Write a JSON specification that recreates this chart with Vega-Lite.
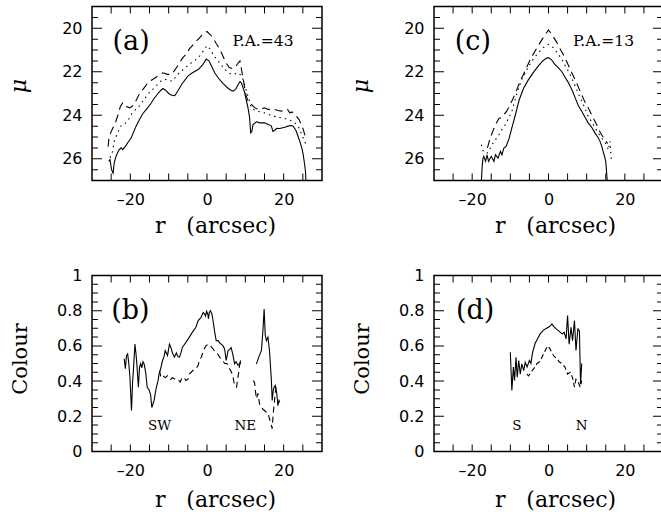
{
  "$schema": "https://vega.github.io/schema/vega-lite/v6.json",
  "background": "white",
  "padding": {"left": 6, "top": 5.5, "right": 0, "bottom": 0},
  "config": {
    "view": {"stroke": "black", "strokeWidth": 1.5},
    "axis": {"grid": false, "domain": false, "ticks": false, "tickSize": 0, "labelFont": "DejaVu Sans", "labelFontSize": 16, "labelColor": "black", "titleColor": "black", "titleFont": "DejaVu Serif", "titleFontSize": 21, "titleFontWeight": "normal", "labelOverlap": false, "labelFlush": false, "labelBound": false}
  },
  "datasets": {
    "xt": [{"v":-25},{"v":-20},{"v":-15},{"v":-10},{"v":-5},{"v":0},{"v":5},{"v":10},{"v":15},{"v":20},{"v":25}],
    "mumaj": [{"v":20},{"v":22},{"v":24},{"v":26}],
    "mumin": [{"v":19.5},{"v":20.5},{"v":21},{"v":21.5},{"v":22.5},{"v":23},{"v":23.5},{"v":24.5},{"v":25},{"v":25.5},{"v":26.5}],
    "cmaj": [{"v":0.2},{"v":0.4},{"v":0.6},{"v":0.8}],
    "cmin": [{"v":0.05},{"v":0.1},{"v":0.15},{"v":0.25},{"v":0.3},{"v":0.35},{"v":0.45},{"v":0.5},{"v":0.55},{"v":0.65},{"v":0.7},{"v":0.75},{"v":0.85},{"v":0.9},{"v":0.95}],
    "pa": [
      {"r":-25.65,"mu":26.12,"s":"solid"},{"r":-25.3,"mu":26.04,"s":"solid"},{"r":-24.9,"mu":26.5,"s":"solid"},{"r":-24.5,"mu":26.66,"s":"solid"},{"r":-24.2,"mu":26.2,"s":"solid"},{"r":-23.9,"mu":25.97,"s":"solid"},{"r":-23.4,"mu":25.75,"s":"solid"},{"r":-22.9,"mu":25.58,"s":"solid"},{"r":-22.4,"mu":25.5,"s":"solid"},{"r":-22.0,"mu":25.58,"s":"solid"},{"r":-21.3,"mu":25.43,"s":"solid"},{"r":-20.5,"mu":25.22,"s":"solid"},{"r":-19.8,"mu":25.05,"s":"solid"},{"r":-19.2,"mu":24.8,"s":"solid"},{"r":-18.5,"mu":24.5,"s":"solid"},{"r":-17.6,"mu":24.2,"s":"solid"},{"r":-16.8,"mu":23.94,"s":"solid"},{"r":-15.5,"mu":23.66,"s":"solid"},{"r":-14.6,"mu":23.45,"s":"solid"},{"r":-13.8,"mu":23.23,"s":"solid"},{"r":-12.8,"mu":23.0,"s":"solid"},{"r":-12.0,"mu":22.85,"s":"solid"},{"r":-11.5,"mu":22.77,"s":"solid"},{"r":-10.8,"mu":22.85,"s":"solid"},{"r":-10.0,"mu":23.0,"s":"solid"},{"r":-9.2,"mu":23.08,"s":"solid"},{"r":-8.4,"mu":23.1,"s":"solid"},{"r":-7.5,"mu":22.85,"s":"solid"},{"r":-6.5,"mu":22.55,"s":"solid"},{"r":-5.0,"mu":22.2,"s":"solid"},{"r":-3.8,"mu":22.05,"s":"solid"},{"r":-2.3,"mu":21.9,"s":"solid"},{"r":-1.2,"mu":21.7,"s":"solid"},{"r":-0.2,"mu":21.42,"s":"solid"},{"r":0.5,"mu":21.5,"s":"solid"},{"r":1.2,"mu":21.75,"s":"solid"},{"r":2.0,"mu":22.05,"s":"solid"},{"r":3.0,"mu":22.3,"s":"solid"},{"r":4.2,"mu":22.55,"s":"solid"},{"r":5.5,"mu":22.76,"s":"solid"},{"r":6.3,"mu":22.86,"s":"solid"},{"r":6.8,"mu":22.89,"s":"solid"},{"r":7.5,"mu":22.8,"s":"solid"},{"r":8.1,"mu":22.6,"s":"solid"},{"r":8.6,"mu":22.45,"s":"solid"},{"r":9.0,"mu":22.52,"s":"solid"},{"r":9.8,"mu":22.95,"s":"solid"},{"r":10.7,"mu":23.66,"s":"solid"},{"r":11.1,"mu":24.1,"s":"solid"},{"r":11.4,"mu":24.81,"s":"solid"},{"r":11.7,"mu":24.75,"s":"solid"},{"r":12.0,"mu":24.43,"s":"solid"},{"r":12.9,"mu":24.3,"s":"solid"},{"r":13.8,"mu":24.35,"s":"solid"},{"r":15.0,"mu":24.35,"s":"solid"},{"r":16.0,"mu":24.42,"s":"solid"},{"r":16.8,"mu":24.5,"s":"solid"},{"r":17.2,"mu":24.74,"s":"solid"},{"r":17.6,"mu":24.7,"s":"solid"},{"r":18.2,"mu":24.6,"s":"solid"},{"r":19.0,"mu":24.61,"s":"solid"},{"r":20.3,"mu":24.55,"s":"solid"},{"r":21.1,"mu":24.5,"s":"solid"},{"r":22.0,"mu":24.47,"s":"solid"},{"r":22.5,"mu":24.5,"s":"solid"},{"r":23.3,"mu":24.74,"s":"solid"},{"r":24.2,"mu":25.2,"s":"solid"},{"r":24.8,"mu":25.55,"s":"solid"},{"r":25.1,"mu":25.81,"s":"solid"},{"r":25.5,"mu":26.3,"s":"solid"},{"r":25.7,"mu":26.6,"s":"solid"},{"r":25.8,"mu":27.05,"s":"solid"},
      {"r":-25.3,"mu":25.95,"s":"dotted"},{"r":-24.6,"mu":25.66,"s":"dotted"},{"r":-24.2,"mu":25.2,"s":"dotted"},{"r":-23.3,"mu":24.81,"s":"dotted"},{"r":-22.5,"mu":24.5,"s":"dotted"},{"r":-21.5,"mu":24.4,"s":"dotted"},{"r":-20.7,"mu":24.27,"s":"dotted"},{"r":-19.8,"mu":23.97,"s":"dotted"},{"r":-18.7,"mu":23.75,"s":"dotted"},{"r":-17.7,"mu":23.58,"s":"dotted"},{"r":-16.5,"mu":23.3,"s":"dotted"},{"r":-15.5,"mu":23.04,"s":"dotted"},{"r":-14.4,"mu":22.85,"s":"dotted"},{"r":-13.3,"mu":22.66,"s":"dotted"},{"r":-12.0,"mu":22.42,"s":"dotted"},{"r":-10.9,"mu":22.35,"s":"dotted"},{"r":-10.0,"mu":22.4,"s":"dotted"},{"r":-9.0,"mu":22.43,"s":"dotted"},{"r":-8.0,"mu":22.2,"s":"dotted"},{"r":-7.2,"mu":22.05,"s":"dotted"},{"r":-5.9,"mu":21.85,"s":"dotted"},{"r":-4.6,"mu":21.66,"s":"dotted"},{"r":-3.3,"mu":21.5,"s":"dotted"},{"r":-2.0,"mu":21.3,"s":"dotted"},{"r":-1.0,"mu":21.05,"s":"dotted"},{"r":0.0,"mu":20.8,"s":"dotted"},{"r":0.8,"mu":20.95,"s":"dotted"},{"r":1.9,"mu":21.3,"s":"dotted"},{"r":2.9,"mu":21.5,"s":"dotted"},{"r":3.8,"mu":21.7,"s":"dotted"},{"r":4.6,"mu":21.89,"s":"dotted"},{"r":5.5,"mu":22.0,"s":"dotted"},{"r":6.3,"mu":22.12,"s":"dotted"},{"r":7.2,"mu":22.1,"s":"dotted"},{"r":8.1,"mu":22.05,"s":"dotted"},{"r":8.8,"mu":22.15,"s":"dotted"},{"r":9.4,"mu":22.35,"s":"dotted"},{"r":10.3,"mu":22.89,"s":"dotted"},{"r":11.0,"mu":23.3,"s":"dotted"},{"r":11.6,"mu":23.66,"s":"dotted"},{"r":12.3,"mu":23.75,"s":"dotted"},{"r":12.9,"mu":23.81,"s":"dotted"},{"r":14.0,"mu":23.85,"s":"dotted"},{"r":15.0,"mu":23.89,"s":"dotted"},{"r":16.0,"mu":23.95,"s":"dotted"},{"r":17.2,"mu":24.04,"s":"dotted"},{"r":18.3,"mu":24.08,"s":"dotted"},{"r":19.4,"mu":24.12,"s":"dotted"},{"r":20.3,"mu":24.15,"s":"dotted"},{"r":21.1,"mu":24.2,"s":"dotted"},{"r":22.0,"mu":24.25,"s":"dotted"},{"r":22.9,"mu":24.35,"s":"dotted"},{"r":23.6,"mu":24.45,"s":"dotted"},{"r":24.2,"mu":24.66,"s":"dotted"},{"r":25.1,"mu":25.04,"s":"dotted"},{"r":25.7,"mu":25.3,"s":"dotted"},
      {"r":-25.8,"mu":25.45,"s":"dashed"},{"r":-25.6,"mu":25.1,"s":"dashed"},{"r":-25.1,"mu":24.8,"s":"dashed"},{"r":-24.6,"mu":24.6,"s":"dashed"},{"r":-23.8,"mu":24.3,"s":"dashed"},{"r":-23.2,"mu":23.97,"s":"dashed"},{"r":-22.6,"mu":23.6,"s":"dashed"},{"r":-22.0,"mu":23.43,"s":"dashed"},{"r":-21.5,"mu":23.45,"s":"dashed"},{"r":-21.0,"mu":23.6,"s":"dashed"},{"r":-20.2,"mu":23.66,"s":"dashed"},{"r":-19.6,"mu":23.6,"s":"dashed"},{"r":-19.0,"mu":23.5,"s":"dashed"},{"r":-18.3,"mu":23.25,"s":"dashed"},{"r":-17.7,"mu":23.04,"s":"dashed"},{"r":-16.4,"mu":22.74,"s":"dashed"},{"r":-15.4,"mu":22.5,"s":"dashed"},{"r":-14.6,"mu":22.4,"s":"dashed"},{"r":-13.3,"mu":22.25,"s":"dashed"},{"r":-12.3,"mu":22.12,"s":"dashed"},{"r":-11.5,"mu":22.05,"s":"dashed"},{"r":-10.3,"mu":22.12,"s":"dashed"},{"r":-9.3,"mu":22.12,"s":"dashed"},{"r":-8.5,"mu":21.95,"s":"dashed"},{"r":-7.7,"mu":21.75,"s":"dashed"},{"r":-6.5,"mu":21.4,"s":"dashed"},{"r":-5.5,"mu":21.2,"s":"dashed"},{"r":-4.6,"mu":20.95,"s":"dashed"},{"r":-3.8,"mu":20.8,"s":"dashed"},{"r":-2.8,"mu":20.6,"s":"dashed"},{"r":-2.0,"mu":20.45,"s":"dashed"},{"r":-1.0,"mu":20.25,"s":"dashed"},{"r":0.0,"mu":20.15,"s":"dashed"},{"r":0.9,"mu":20.3,"s":"dashed"},{"r":1.6,"mu":20.45,"s":"dashed"},{"r":2.4,"mu":20.7,"s":"dashed"},{"r":3.3,"mu":20.95,"s":"dashed"},{"r":4.2,"mu":21.3,"s":"dashed"},{"r":5.0,"mu":21.6,"s":"dashed"},{"r":5.8,"mu":21.81,"s":"dashed"},{"r":6.6,"mu":21.85,"s":"dashed"},{"r":7.4,"mu":21.8,"s":"dashed"},{"r":8.1,"mu":21.6,"s":"dashed"},{"r":8.6,"mu":21.5,"s":"dashed"},{"r":9.0,"mu":21.9,"s":"dashed"},{"r":9.7,"mu":22.6,"s":"dashed"},{"r":10.2,"mu":23.1,"s":"dashed"},{"r":10.7,"mu":23.35,"s":"dashed"},{"r":11.6,"mu":23.5,"s":"dashed"},{"r":12.4,"mu":23.65,"s":"dashed"},{"r":13.3,"mu":23.73,"s":"dashed"},{"r":14.2,"mu":23.7,"s":"dashed"},{"r":15.0,"mu":23.66,"s":"dashed"},{"r":15.8,"mu":23.72,"s":"dashed"},{"r":16.6,"mu":23.75,"s":"dashed"},{"r":17.6,"mu":23.73,"s":"dashed"},{"r":18.5,"mu":23.78,"s":"dashed"},{"r":19.4,"mu":23.81,"s":"dashed"},{"r":20.3,"mu":23.75,"s":"dashed"},{"r":21.0,"mu":23.73,"s":"dashed"},{"r":21.6,"mu":23.89,"s":"dashed"},{"r":22.2,"mu":23.85,"s":"dashed"},{"r":23.3,"mu":24.04,"s":"dashed"},{"r":24.0,"mu":24.2,"s":"dashed"},{"r":24.6,"mu":24.43,"s":"dashed"},{"r":25.1,"mu":24.65,"s":"dashed"},{"r":25.5,"mu":24.89,"s":"dashed"},{"r":25.9,"mu":25.15,"s":"dashed"}
    ],
    "pc": [
      {"r":-17.6,"mu":27.05,"s":"solid"},{"r":-17.4,"mu":26.43,"s":"solid"},{"r":-17.2,"mu":26.0,"s":"solid"},{"r":-16.96,"mu":25.89,"s":"solid"},{"r":-16.5,"mu":26.12,"s":"solid"},{"r":-16.1,"mu":25.82,"s":"solid"},{"r":-15.7,"mu":26.12,"s":"solid"},{"r":-15.0,"mu":25.89,"s":"solid"},{"r":-14.3,"mu":26.12,"s":"solid"},{"r":-13.9,"mu":25.82,"s":"solid"},{"r":-13.2,"mu":25.97,"s":"solid"},{"r":-12.6,"mu":25.66,"s":"solid"},{"r":-12.2,"mu":25.82,"s":"solid"},{"r":-11.7,"mu":25.51,"s":"solid"},{"r":-11.1,"mu":25.43,"s":"solid"},{"r":-10.3,"mu":25.05,"s":"solid"},{"r":-9.6,"mu":24.58,"s":"solid"},{"r":-8.7,"mu":24.0,"s":"solid"},{"r":-7.7,"mu":23.3,"s":"solid"},{"r":-6.5,"mu":22.75,"s":"solid"},{"r":-5.2,"mu":22.35,"s":"solid"},{"r":-3.9,"mu":22.02,"s":"solid"},{"r":-2.6,"mu":21.72,"s":"solid"},{"r":-1.5,"mu":21.5,"s":"solid"},{"r":-0.6,"mu":21.38,"s":"solid"},{"r":0.0,"mu":21.35,"s":"solid"},{"r":0.8,"mu":21.45,"s":"solid"},{"r":1.6,"mu":21.65,"s":"solid"},{"r":2.5,"mu":21.8,"s":"solid"},{"r":3.5,"mu":22.0,"s":"solid"},{"r":4.5,"mu":22.3,"s":"solid"},{"r":5.2,"mu":22.5,"s":"solid"},{"r":6.2,"mu":22.85,"s":"solid"},{"r":7.0,"mu":23.2,"s":"solid"},{"r":7.8,"mu":23.55,"s":"solid"},{"r":8.7,"mu":23.82,"s":"solid"},{"r":9.6,"mu":24.1,"s":"solid"},{"r":10.4,"mu":24.35,"s":"solid"},{"r":11.3,"mu":24.55,"s":"solid"},{"r":12.2,"mu":24.82,"s":"solid"},{"r":12.9,"mu":25.0,"s":"solid"},{"r":13.5,"mu":25.2,"s":"solid"},{"r":14.0,"mu":25.45,"s":"solid"},{"r":14.3,"mu":25.66,"s":"solid"},{"r":14.7,"mu":25.9,"s":"solid"},{"r":15.0,"mu":26.12,"s":"solid"},{"r":15.2,"mu":26.58,"s":"solid"},{"r":15.4,"mu":27.05,"s":"solid"},
      {"r":-17.6,"mu":25.35,"s":"dotted"},{"r":-17.0,"mu":25.7,"s":"dotted"},{"r":-16.1,"mu":25.74,"s":"dotted"},{"r":-15.2,"mu":25.5,"s":"dotted"},{"r":-14.6,"mu":25.3,"s":"dotted"},{"r":-13.8,"mu":25.1,"s":"dotted"},{"r":-13.0,"mu":24.9,"s":"dotted"},{"r":-12.2,"mu":24.65,"s":"dotted"},{"r":-11.3,"mu":24.43,"s":"dotted"},{"r":-10.5,"mu":24.15,"s":"dotted"},{"r":-9.6,"mu":23.82,"s":"dotted"},{"r":-8.7,"mu":23.25,"s":"dotted"},{"r":-7.8,"mu":22.74,"s":"dotted"},{"r":-7.0,"mu":22.35,"s":"dotted"},{"r":-6.1,"mu":22.05,"s":"dotted"},{"r":-5.2,"mu":21.75,"s":"dotted"},{"r":-4.3,"mu":21.5,"s":"dotted"},{"r":-3.5,"mu":21.3,"s":"dotted"},{"r":-2.6,"mu":21.12,"s":"dotted"},{"r":-1.7,"mu":20.95,"s":"dotted"},{"r":-0.9,"mu":20.82,"s":"dotted"},{"r":0.0,"mu":20.74,"s":"dotted"},{"r":0.6,"mu":20.8,"s":"dotted"},{"r":1.3,"mu":20.9,"s":"dotted"},{"r":2.4,"mu":21.15,"s":"dotted"},{"r":3.5,"mu":21.43,"s":"dotted"},{"r":4.3,"mu":21.7,"s":"dotted"},{"r":5.2,"mu":21.97,"s":"dotted"},{"r":6.1,"mu":22.3,"s":"dotted"},{"r":7.0,"mu":22.66,"s":"dotted"},{"r":7.8,"mu":23.0,"s":"dotted"},{"r":8.7,"mu":23.35,"s":"dotted"},{"r":9.6,"mu":23.7,"s":"dotted"},{"r":10.4,"mu":24.05,"s":"dotted"},{"r":11.3,"mu":24.3,"s":"dotted"},{"r":12.2,"mu":24.58,"s":"dotted"},{"r":13.0,"mu":24.8,"s":"dotted"},{"r":13.9,"mu":25.05,"s":"dotted"},{"r":14.6,"mu":25.2,"s":"dotted"},{"r":15.2,"mu":25.35,"s":"dotted"},{"r":15.7,"mu":25.6,"s":"dotted"},{"r":16.1,"mu":25.2,"s":"dotted"},{"r":16.5,"mu":26.1,"s":"dotted"},
      {"r":-16.0,"mu":25.5,"s":"dashed"},{"r":-15.2,"mu":25.0,"s":"dashed"},{"r":-14.6,"mu":24.74,"s":"dashed"},{"r":-13.8,"mu":24.4,"s":"dashed"},{"r":-13.0,"mu":24.15,"s":"dashed"},{"r":-12.2,"mu":24.1,"s":"dashed"},{"r":-11.7,"mu":23.97,"s":"dashed"},{"r":-10.9,"mu":23.8,"s":"dashed"},{"r":-10.2,"mu":23.55,"s":"dashed"},{"r":-9.6,"mu":23.35,"s":"dashed"},{"r":-8.7,"mu":23.0,"s":"dashed"},{"r":-7.7,"mu":22.55,"s":"dashed"},{"r":-6.5,"mu":22.1,"s":"dashed"},{"r":-5.2,"mu":21.6,"s":"dashed"},{"r":-4.3,"mu":21.28,"s":"dashed"},{"r":-3.2,"mu":20.95,"s":"dashed"},{"r":-2.2,"mu":20.66,"s":"dashed"},{"r":-1.1,"mu":20.35,"s":"dashed"},{"r":0.0,"mu":20.08,"s":"dashed"},{"r":1.1,"mu":20.35,"s":"dashed"},{"r":2.2,"mu":20.66,"s":"dashed"},{"r":3.2,"mu":21.0,"s":"dashed"},{"r":4.3,"mu":21.35,"s":"dashed"},{"r":5.2,"mu":21.7,"s":"dashed"},{"r":6.1,"mu":22.05,"s":"dashed"},{"r":7.2,"mu":22.45,"s":"dashed"},{"r":8.3,"mu":22.9,"s":"dashed"},{"r":9.3,"mu":23.3,"s":"dashed"},{"r":10.4,"mu":23.66,"s":"dashed"},{"r":11.5,"mu":24.05,"s":"dashed"},{"r":12.6,"mu":24.43,"s":"dashed"},{"r":13.3,"mu":24.7,"s":"dashed"},{"r":13.9,"mu":24.9,"s":"dashed"},{"r":14.8,"mu":25.12,"s":"dashed"},{"r":15.5,"mu":25.3,"s":"dashed"}
    ],
    "pb": [
      {"r":-21.6,"c":0.527,"s":"solid","seg":1},{"r":-21.3,"c":0.47,"s":"solid","seg":1},{"r":-21.0,"c":0.545,"s":"solid","seg":1},{"r":-20.7,"c":0.555,"s":"solid","seg":1},{"r":-20.4,"c":0.5,"s":"solid","seg":1},{"r":-20.1,"c":0.42,"s":"solid","seg":1},{"r":-19.7,"c":0.233,"s":"solid","seg":1},{"r":-19.4,"c":0.4,"s":"solid","seg":1},{"r":-19.2,"c":0.46,"s":"solid","seg":1},{"r":-18.8,"c":0.61,"s":"solid","seg":1},{"r":-18.5,"c":0.55,"s":"solid","seg":1},{"r":-18.3,"c":0.498,"s":"solid","seg":1},{"r":-17.9,"c":0.365,"s":"solid","seg":1},{"r":-17.6,"c":0.48,"s":"solid","seg":1},{"r":-17.3,"c":0.5,"s":"solid","seg":1},{"r":-17.0,"c":0.475,"s":"solid","seg":1},{"r":-16.7,"c":0.51,"s":"solid","seg":1},{"r":-16.4,"c":0.498,"s":"solid","seg":1},{"r":-16.0,"c":0.45,"s":"solid","seg":1},{"r":-15.6,"c":0.365,"s":"solid","seg":1},{"r":-15.1,"c":0.35,"s":"solid","seg":1},{"r":-14.7,"c":0.32,"s":"solid","seg":1},{"r":-14.4,"c":0.25,"s":"solid","seg":1},{"r":-14.1,"c":0.27,"s":"solid","seg":1},{"r":-13.8,"c":0.29,"s":"solid","seg":1},{"r":-13.5,"c":0.33,"s":"solid","seg":1},{"r":-13.2,"c":0.365,"s":"solid","seg":1},{"r":-12.8,"c":0.4,"s":"solid","seg":1},{"r":-12.5,"c":0.44,"s":"solid","seg":1},{"r":-12.1,"c":0.47,"s":"solid","seg":1},{"r":-11.6,"c":0.517,"s":"solid","seg":1},{"r":-11.2,"c":0.54,"s":"solid","seg":1},{"r":-10.9,"c":0.574,"s":"solid","seg":1},{"r":-10.6,"c":0.56,"s":"solid","seg":1},{"r":-10.3,"c":0.545,"s":"solid","seg":1},{"r":-9.8,"c":0.61,"s":"solid","seg":1},{"r":-9.4,"c":0.59,"s":"solid","seg":1},{"r":-9.0,"c":0.56,"s":"solid","seg":1},{"r":-8.5,"c":0.536,"s":"solid","seg":1},{"r":-8.0,"c":0.56,"s":"solid","seg":1},{"r":-7.6,"c":0.54,"s":"solid","seg":1},{"r":-7.2,"c":0.536,"s":"solid","seg":1},{"r":-6.8,"c":0.56,"s":"solid","seg":1},{"r":-6.4,"c":0.593,"s":"solid","seg":1},{"r":-5.5,"c":0.62,"s":"solid","seg":1},{"r":-4.6,"c":0.65,"s":"solid","seg":1},{"r":-3.8,"c":0.678,"s":"solid","seg":1},{"r":-2.9,"c":0.706,"s":"solid","seg":1},{"r":-2.3,"c":0.744,"s":"solid","seg":1},{"r":-1.6,"c":0.76,"s":"solid","seg":1},{"r":-1.0,"c":0.79,"s":"solid","seg":1},{"r":-0.6,"c":0.78,"s":"solid","seg":1},{"r":-0.4,"c":0.77,"s":"solid","seg":1},{"r":-0.1,"c":0.797,"s":"solid","seg":1},{"r":0.2,"c":0.78,"s":"solid","seg":1},{"r":0.4,"c":0.754,"s":"solid","seg":1},{"r":0.6,"c":0.79,"s":"solid","seg":1},{"r":0.9,"c":0.8,"s":"solid","seg":1},{"r":1.3,"c":0.78,"s":"solid","seg":1},{"r":1.6,"c":0.74,"s":"solid","seg":1},{"r":2.0,"c":0.68,"s":"solid","seg":1},{"r":2.4,"c":0.63,"s":"solid","seg":1},{"r":2.9,"c":0.63,"s":"solid","seg":1},{"r":3.4,"c":0.615,"s":"solid","seg":1},{"r":3.7,"c":0.61,"s":"solid","seg":1},{"r":4.2,"c":0.6,"s":"solid","seg":1},{"r":4.6,"c":0.583,"s":"solid","seg":1},{"r":5.0,"c":0.517,"s":"solid","seg":1},{"r":5.3,"c":0.55,"s":"solid","seg":1},{"r":5.5,"c":0.574,"s":"solid","seg":1},{"r":5.9,"c":0.58,"s":"solid","seg":1},{"r":6.3,"c":0.59,"s":"solid","seg":1},{"r":6.7,"c":0.555,"s":"solid","seg":1},{"r":7.2,"c":0.498,"s":"solid","seg":1},{"r":7.6,"c":0.51,"s":"solid","seg":1},{"r":8.1,"c":0.49,"s":"solid","seg":1},{"r":8.5,"c":0.5,"s":"solid","seg":1},{"r":8.8,"c":0.517,"s":"solid","seg":1},
      {"r":12.9,"c":0.498,"s":"solid","seg":2},{"r":13.5,"c":0.536,"s":"solid","seg":2},{"r":14.2,"c":0.574,"s":"solid","seg":2},{"r":14.6,"c":0.69,"s":"solid","seg":2},{"r":14.9,"c":0.81,"s":"solid","seg":2},{"r":15.2,"c":0.66,"s":"solid","seg":2},{"r":15.5,"c":0.63,"s":"solid","seg":2},{"r":15.9,"c":0.65,"s":"solid","seg":2},{"r":16.3,"c":0.574,"s":"solid","seg":2},{"r":16.8,"c":0.403,"s":"solid","seg":2},{"r":17.0,"c":0.29,"s":"solid","seg":2},{"r":17.3,"c":0.35,"s":"solid","seg":2},{"r":17.5,"c":0.365,"s":"solid","seg":2},{"r":17.8,"c":0.375,"s":"solid","seg":2},{"r":18.2,"c":0.33,"s":"solid","seg":2},{"r":18.5,"c":0.26,"s":"solid","seg":2},{"r":18.8,"c":0.29,"s":"solid","seg":2},{"r":19.0,"c":0.28,"s":"solid","seg":2},
      {"r":-12.4,"c":0.46,"s":"dashed","seg":1},{"r":-12.0,"c":0.42,"s":"dashed","seg":1},{"r":-11.5,"c":0.43,"s":"dashed","seg":1},{"r":-10.9,"c":0.42,"s":"dashed","seg":1},{"r":-10.3,"c":0.43,"s":"dashed","seg":1},{"r":-9.5,"c":0.41,"s":"dashed","seg":1},{"r":-9.0,"c":0.42,"s":"dashed","seg":1},{"r":-8.3,"c":0.41,"s":"dashed","seg":1},{"r":-7.7,"c":0.41,"s":"dashed","seg":1},{"r":-7.0,"c":0.395,"s":"dashed","seg":1},{"r":-6.5,"c":0.42,"s":"dashed","seg":1},{"r":-6.0,"c":0.42,"s":"dashed","seg":1},{"r":-5.5,"c":0.403,"s":"dashed","seg":1},{"r":-5.0,"c":0.41,"s":"dashed","seg":1},{"r":-4.6,"c":0.44,"s":"dashed","seg":1},{"r":-3.7,"c":0.46,"s":"dashed","seg":1},{"r":-2.9,"c":0.47,"s":"dashed","seg":1},{"r":-2.3,"c":0.49,"s":"dashed","seg":1},{"r":-2.0,"c":0.517,"s":"dashed","seg":1},{"r":-1.5,"c":0.536,"s":"dashed","seg":1},{"r":-0.8,"c":0.58,"s":"dashed","seg":1},{"r":-0.3,"c":0.6,"s":"dashed","seg":1},{"r":0.3,"c":0.61,"s":"dashed","seg":1},{"r":0.9,"c":0.6,"s":"dashed","seg":1},{"r":1.5,"c":0.585,"s":"dashed","seg":1},{"r":2.0,"c":0.57,"s":"dashed","seg":1},{"r":2.6,"c":0.56,"s":"dashed","seg":1},{"r":3.3,"c":0.536,"s":"dashed","seg":1},{"r":4.0,"c":0.52,"s":"dashed","seg":1},{"r":4.6,"c":0.5,"s":"dashed","seg":1},{"r":5.2,"c":0.5,"s":"dashed","seg":1},{"r":5.9,"c":0.47,"s":"dashed","seg":1},{"r":6.4,"c":0.45,"s":"dashed","seg":1},{"r":6.8,"c":0.42,"s":"dashed","seg":1},{"r":7.2,"c":0.375,"s":"dashed","seg":1},{"r":7.7,"c":0.366,"s":"dashed","seg":1},{"r":8.2,"c":0.44,"s":"dashed","seg":1},{"r":8.5,"c":0.49,"s":"dashed","seg":1},{"r":8.8,"c":0.508,"s":"dashed","seg":1},
      {"r":12.0,"c":0.403,"s":"dashed","seg":2},{"r":12.4,"c":0.394,"s":"dashed","seg":2},{"r":12.6,"c":0.35,"s":"dashed","seg":2},{"r":12.9,"c":0.3,"s":"dashed","seg":2},{"r":13.3,"c":0.33,"s":"dashed","seg":2},{"r":13.7,"c":0.27,"s":"dashed","seg":2},{"r":14.2,"c":0.25,"s":"dashed","seg":2},{"r":14.6,"c":0.24,"s":"dashed","seg":2},{"r":15.0,"c":0.233,"s":"dashed","seg":2},{"r":15.5,"c":0.223,"s":"dashed","seg":2},{"r":15.9,"c":0.22,"s":"dashed","seg":2},{"r":16.3,"c":0.186,"s":"dashed","seg":2},{"r":16.8,"c":0.148,"s":"dashed","seg":2},{"r":17.0,"c":0.13,"s":"dashed","seg":2},{"r":17.3,"c":0.223,"s":"dashed","seg":2},{"r":17.7,"c":0.308,"s":"dashed","seg":2},{"r":18.0,"c":0.365,"s":"dashed","seg":2}
    ],
    "pd": [
      {"r":-10.0,"c":0.564,"s":"solid"},{"r":-9.6,"c":0.347,"s":"solid"},{"r":-9.2,"c":0.48,"s":"solid"},{"r":-8.9,"c":0.403,"s":"solid"},{"r":-8.5,"c":0.536,"s":"solid"},{"r":-8.2,"c":0.422,"s":"solid"},{"r":-7.8,"c":0.517,"s":"solid"},{"r":-7.4,"c":0.44,"s":"solid"},{"r":-7.0,"c":0.498,"s":"solid"},{"r":-6.5,"c":0.46,"s":"solid"},{"r":-6.1,"c":0.507,"s":"solid"},{"r":-5.6,"c":0.48,"s":"solid"},{"r":-5.0,"c":0.517,"s":"solid"},{"r":-4.6,"c":0.5,"s":"solid"},{"r":-4.2,"c":0.56,"s":"solid"},{"r":-3.5,"c":0.615,"s":"solid"},{"r":-3.0,"c":0.635,"s":"solid"},{"r":-2.2,"c":0.668,"s":"solid"},{"r":-1.3,"c":0.69,"s":"solid"},{"r":-0.5,"c":0.7,"s":"solid"},{"r":0.3,"c":0.71,"s":"solid"},{"r":0.9,"c":0.725,"s":"solid"},{"r":1.4,"c":0.71,"s":"solid"},{"r":2.0,"c":0.697,"s":"solid"},{"r":2.6,"c":0.687,"s":"solid"},{"r":3.2,"c":0.675,"s":"solid"},{"r":3.6,"c":0.668,"s":"solid"},{"r":4.1,"c":0.678,"s":"solid"},{"r":4.6,"c":0.64,"s":"solid"},{"r":5.0,"c":0.773,"s":"solid"},{"r":5.4,"c":0.61,"s":"solid"},{"r":5.9,"c":0.706,"s":"solid"},{"r":6.3,"c":0.63,"s":"solid"},{"r":6.8,"c":0.744,"s":"solid"},{"r":7.2,"c":0.574,"s":"solid"},{"r":7.7,"c":0.697,"s":"solid"},{"r":8.1,"c":0.687,"s":"solid"},{"r":8.4,"c":0.384,"s":"solid"},{"r":8.7,"c":0.5,"s":"solid"},
      {"r":-5.7,"c":0.44,"s":"dashed"},{"r":-5.2,"c":0.43,"s":"dashed"},{"r":-4.3,"c":0.46,"s":"dashed"},{"r":-3.5,"c":0.48,"s":"dashed"},{"r":-3.0,"c":0.5,"s":"dashed"},{"r":-2.2,"c":0.512,"s":"dashed"},{"r":-1.3,"c":0.555,"s":"dashed"},{"r":-0.6,"c":0.585,"s":"dashed"},{"r":-0.2,"c":0.6,"s":"dashed"},{"r":0.4,"c":0.583,"s":"dashed"},{"r":0.9,"c":0.56,"s":"dashed"},{"r":1.5,"c":0.54,"s":"dashed"},{"r":2.2,"c":0.527,"s":"dashed"},{"r":2.8,"c":0.51,"s":"dashed"},{"r":3.5,"c":0.5,"s":"dashed"},{"r":4.3,"c":0.48,"s":"dashed"},{"r":5.0,"c":0.44,"s":"dashed"},{"r":5.7,"c":0.45,"s":"dashed"},{"r":6.3,"c":0.42,"s":"dashed"},{"r":6.8,"c":0.366,"s":"dashed"},{"r":7.2,"c":0.41,"s":"dashed"},{"r":7.8,"c":0.394,"s":"dashed"},{"r":8.3,"c":0.366,"s":"dashed"},{"r":8.7,"c":0.403,"s":"dashed"}
    ]
  },
  "columns": 2,
  "bounds": "flush",
  "spacing": {"row": 95, "column": 112},
  "concat": [
    {
      "width": 230, "height": 174,
      "layer": [
        {"data": {"name": "pa"}, "transform": [{"filter": "datum.s === 'solid'"}],
         "mark": {"type": "line", "color": "black", "strokeWidth": 1.1, "clip": true},
         "encoding": {
           "x": {"field": "r", "type": "quantitative", "scale": {"domain": [-30, 30], "nice": false, "zero": false},
                 "axis": {"orient": "bottom", "values": [-20, 0, 20], "labelExpr": "datum.value === -20 ? '–20' : '' + datum.value", "labelPadding": 11, "title": "r\u00a0\u00a0\u00a0(arcsec)", "titleFontSize": 22, "titleX": 123, "titleY": 52, "titleBaseline": "alphabetic", "titleAlign": "center"}},
           "y": {"field": "mu", "type": "quantitative", "scale": {"domain": [19, 27], "reverse": true, "nice": false, "zero": false},
                 "axis": {"orient": "left", "values": [20, 22, 24, 26], "labelExpr": "'' + datum.value", "labelPadding": 10, "title": "μ", "titleFontStyle": "italic", "titleFontSize": 22, "titleX": -74, "titleY": 79, "titleBaseline": "middle", "titleAlign": "center"}}}},
        {"data": {"name": "pa"}, "transform": [{"filter": "datum.s === 'dotted'"}],
         "mark": {"type": "line", "color": "black", "strokeWidth": 1.1, "strokeDash": [1.5, 4], "clip": true},
         "encoding": {"x": {"field": "r", "type": "quantitative", "axis": null}, "y": {"field": "mu", "type": "quantitative", "axis": null}}},
        {"data": {"name": "pa"}, "transform": [{"filter": "datum.s === 'dashed'"}],
         "mark": {"type": "line", "color": "black", "strokeWidth": 1.1, "strokeDash": [8, 5], "clip": true},
         "encoding": {"x": {"field": "r", "type": "quantitative", "axis": null}, "y": {"field": "mu", "type": "quantitative", "axis": null}}},
        {"data": {"values": [{"r": -19.8, "mu": 20.63, "t": "(a)"}]},
         "mark": {"type": "text", "font": "DejaVu Serif", "fontSize": 27, "align": "center", "baseline": "middle", "color": "black"},
         "encoding": {"x": {"field": "r", "type": "quantitative", "axis": null}, "y": {"field": "mu", "type": "quantitative", "axis": null}, "text": {"field": "t"}}},
        {"data": {"values": [{"r": 14.6, "mu": 20.58, "t": "P.A.=43"}]},
         "mark": {"type": "text", "font": "DejaVu Serif", "fontSize": 15.5, "align": "center", "baseline": "middle", "color": "black"},
         "encoding": {"x": {"field": "r", "type": "quantitative", "axis": null}, "y": {"field": "mu", "type": "quantitative", "axis": null}, "text": {"field": "t"}}},
        {"data": {"name": "xt"}, "mark": {"type": "tick", "orient": "vertical", "size": 14, "thickness": 1, "color": "black", "opacity": 1, "clip": true},
         "encoding": {"x": {"field": "v", "type": "quantitative", "axis": null}, "y": {"datum": 27, "type": "quantitative", "axis": null}}},
        {"data": {"name": "xt"}, "mark": {"type": "tick", "orient": "vertical", "size": 14, "thickness": 1, "color": "black", "opacity": 1, "clip": true},
         "encoding": {"x": {"field": "v", "type": "quantitative", "axis": null}, "y": {"datum": 19, "type": "quantitative", "axis": null}}},
        {"data": {"name": "mumaj"}, "mark": {"type": "tick", "orient": "horizontal", "size": 20, "thickness": 1, "color": "black", "opacity": 1, "clip": true},
         "encoding": {"y": {"field": "v", "type": "quantitative", "axis": null}, "x": {"datum": -30, "type": "quantitative", "axis": null}}},
        {"data": {"name": "mumaj"}, "mark": {"type": "tick", "orient": "horizontal", "size": 20, "thickness": 1, "color": "black", "opacity": 1, "clip": true},
         "encoding": {"y": {"field": "v", "type": "quantitative", "axis": null}, "x": {"datum": 30, "type": "quantitative", "axis": null}}},
        {"data": {"name": "mumin"}, "mark": {"type": "tick", "orient": "horizontal", "size": 12, "thickness": 1, "color": "black", "opacity": 1, "clip": true},
         "encoding": {"y": {"field": "v", "type": "quantitative", "axis": null}, "x": {"datum": -30, "type": "quantitative", "axis": null}}},
        {"data": {"name": "mumin"}, "mark": {"type": "tick", "orient": "horizontal", "size": 12, "thickness": 1, "color": "black", "opacity": 1, "clip": true},
         "encoding": {"y": {"field": "v", "type": "quantitative", "axis": null}, "x": {"datum": 30, "type": "quantitative", "axis": null}}}
      ],
      "resolve": {"axis": {"x": "independent", "y": "independent"}}
    },
    {
      "width": 229, "height": 174,
      "layer": [
        {"data": {"name": "pc"}, "transform": [{"filter": "datum.s === 'solid'"}],
         "mark": {"type": "line", "color": "black", "strokeWidth": 1.1, "clip": true},
         "encoding": {
           "x": {"field": "r", "type": "quantitative", "scale": {"domain": [-30, 30], "nice": false, "zero": false},
                 "axis": {"orient": "bottom", "values": [-20, 0, 20], "labelExpr": "datum.value === -20 ? '–20' : '' + datum.value", "labelPadding": 11, "title": "r\u00a0\u00a0\u00a0(arcsec)", "titleFontSize": 22, "titleX": 121, "titleY": 52, "titleBaseline": "alphabetic", "titleAlign": "center"}},
           "y": {"field": "mu", "type": "quantitative", "scale": {"domain": [19, 27], "reverse": true, "nice": false, "zero": false},
                 "axis": {"orient": "left", "values": [20, 22, 24, 26], "labelExpr": "'' + datum.value", "labelPadding": 10, "title": "μ", "titleFontStyle": "italic", "titleFontSize": 22, "titleX": -74, "titleY": 79, "titleBaseline": "middle", "titleAlign": "center"}}}},
        {"data": {"name": "pc"}, "transform": [{"filter": "datum.s === 'dotted'"}],
         "mark": {"type": "line", "color": "black", "strokeWidth": 1.1, "strokeDash": [1.5, 4], "clip": true},
         "encoding": {"x": {"field": "r", "type": "quantitative", "axis": null}, "y": {"field": "mu", "type": "quantitative", "axis": null}}},
        {"data": {"name": "pc"}, "transform": [{"filter": "datum.s === 'dashed'"}],
         "mark": {"type": "line", "color": "black", "strokeWidth": 1.1, "strokeDash": [8, 5], "clip": true},
         "encoding": {"x": {"field": "r", "type": "quantitative", "axis": null}, "y": {"field": "mu", "type": "quantitative", "axis": null}}},
        {"data": {"values": [{"r": -19.8, "mu": 20.62, "t": "(c)"}]},
         "mark": {"type": "text", "font": "DejaVu Serif", "fontSize": 27, "align": "center", "baseline": "middle", "color": "black"},
         "encoding": {"x": {"field": "r", "type": "quantitative", "axis": null}, "y": {"field": "mu", "type": "quantitative", "axis": null}, "text": {"field": "t"}}},
        {"data": {"values": [{"r": 14.4, "mu": 20.58, "t": "P.A.=13"}]},
         "mark": {"type": "text", "font": "DejaVu Serif", "fontSize": 15.5, "align": "center", "baseline": "middle", "color": "black"},
         "encoding": {"x": {"field": "r", "type": "quantitative", "axis": null}, "y": {"field": "mu", "type": "quantitative", "axis": null}, "text": {"field": "t"}}},
        {"data": {"name": "xt"}, "mark": {"type": "tick", "orient": "vertical", "size": 14, "thickness": 1, "color": "black", "opacity": 1, "clip": true},
         "encoding": {"x": {"field": "v", "type": "quantitative", "axis": null}, "y": {"datum": 27, "type": "quantitative", "axis": null}}},
        {"data": {"name": "xt"}, "mark": {"type": "tick", "orient": "vertical", "size": 14, "thickness": 1, "color": "black", "opacity": 1, "clip": true},
         "encoding": {"x": {"field": "v", "type": "quantitative", "axis": null}, "y": {"datum": 19, "type": "quantitative", "axis": null}}},
        {"data": {"name": "mumaj"}, "mark": {"type": "tick", "orient": "horizontal", "size": 20, "thickness": 1, "color": "black", "opacity": 1, "clip": true},
         "encoding": {"y": {"field": "v", "type": "quantitative", "axis": null}, "x": {"datum": -30, "type": "quantitative", "axis": null}}},
        {"data": {"name": "mumaj"}, "mark": {"type": "tick", "orient": "horizontal", "size": 20, "thickness": 1, "color": "black", "opacity": 1, "clip": true},
         "encoding": {"y": {"field": "v", "type": "quantitative", "axis": null}, "x": {"datum": 30, "type": "quantitative", "axis": null}}},
        {"data": {"name": "mumin"}, "mark": {"type": "tick", "orient": "horizontal", "size": 12, "thickness": 1, "color": "black", "opacity": 1, "clip": true},
         "encoding": {"y": {"field": "v", "type": "quantitative", "axis": null}, "x": {"datum": -30, "type": "quantitative", "axis": null}}},
        {"data": {"name": "mumin"}, "mark": {"type": "tick", "orient": "horizontal", "size": 12, "thickness": 1, "color": "black", "opacity": 1, "clip": true},
         "encoding": {"y": {"field": "v", "type": "quantitative", "axis": null}, "x": {"datum": 30, "type": "quantitative", "axis": null}}}
      ],
      "resolve": {"axis": {"x": "independent", "y": "independent"}}
    },
    {
      "width": 230, "height": 176,
      "layer": [
        {"data": {"name": "pb"}, "transform": [{"filter": "datum.s === 'solid'"}],
         "mark": {"type": "line", "color": "black", "strokeWidth": 1.1, "clip": true},
         "encoding": {
           "x": {"field": "r", "type": "quantitative", "scale": {"domain": [-30, 30], "nice": false, "zero": false},
                 "axis": {"orient": "bottom", "values": [-20, 0, 20], "labelExpr": "datum.value === -20 ? '–20' : '' + datum.value", "labelPadding": 11, "title": "r\u00a0\u00a0\u00a0(arcsec)", "titleFontSize": 22, "titleX": 123, "titleY": 55, "titleBaseline": "alphabetic", "titleAlign": "center"}},
           "y": {"field": "c", "type": "quantitative", "scale": {"domain": [0, 1], "nice": false, "zero": false},
                 "axis": {"orient": "left", "values": [0, 0.2, 0.4, 0.6, 0.8, 1], "labelExpr": "'' + datum.value", "labelPadding": 10, "title": "Colour", "titleX": -72, "titleY": 83, "titleBaseline": "middle", "titleAlign": "center"}},
           "detail": {"field": "seg", "type": "nominal"}}},
        {"data": {"name": "pb"}, "transform": [{"filter": "datum.s === 'dashed'"}],
         "mark": {"type": "line", "color": "black", "strokeWidth": 1.1, "strokeDash": [6, 4], "clip": true},
         "encoding": {"x": {"field": "r", "type": "quantitative", "axis": null}, "y": {"field": "c", "type": "quantitative", "axis": null}, "detail": {"field": "seg", "type": "nominal"}}},
        {"data": {"values": [{"r": -20.0, "c": 0.797, "t": "(b)"}]},
         "mark": {"type": "text", "font": "DejaVu Serif", "fontSize": 27, "align": "center", "baseline": "middle", "color": "black"},
         "encoding": {"x": {"field": "r", "type": "quantitative", "axis": null}, "y": {"field": "c", "type": "quantitative", "axis": null}, "text": {"field": "t"}}},
        {"data": {"values": [{"r": -12.4, "c": 0.143, "t": "SW"}, {"r": 10.0, "c": 0.143, "t": "NE"}]},
         "mark": {"type": "text", "font": "DejaVu Serif", "fontSize": 13.5, "align": "center", "baseline": "middle", "color": "black"},
         "encoding": {"x": {"field": "r", "type": "quantitative", "axis": null}, "y": {"field": "c", "type": "quantitative", "axis": null}, "text": {"field": "t"}}},
        {"data": {"name": "xt"}, "mark": {"type": "tick", "orient": "vertical", "size": 14, "thickness": 1, "color": "black", "opacity": 1, "clip": true},
         "encoding": {"x": {"field": "v", "type": "quantitative", "axis": null}, "y": {"datum": 0, "type": "quantitative", "axis": null}}},
        {"data": {"name": "xt"}, "mark": {"type": "tick", "orient": "vertical", "size": 14, "thickness": 1, "color": "black", "opacity": 1, "clip": true},
         "encoding": {"x": {"field": "v", "type": "quantitative", "axis": null}, "y": {"datum": 1, "type": "quantitative", "axis": null}}},
        {"data": {"name": "cmaj"}, "mark": {"type": "tick", "orient": "horizontal", "size": 20, "thickness": 1, "color": "black", "opacity": 1, "clip": true},
         "encoding": {"y": {"field": "v", "type": "quantitative", "axis": null}, "x": {"datum": -30, "type": "quantitative", "axis": null}}},
        {"data": {"name": "cmaj"}, "mark": {"type": "tick", "orient": "horizontal", "size": 20, "thickness": 1, "color": "black", "opacity": 1, "clip": true},
         "encoding": {"y": {"field": "v", "type": "quantitative", "axis": null}, "x": {"datum": 30, "type": "quantitative", "axis": null}}},
        {"data": {"name": "cmin"}, "mark": {"type": "tick", "orient": "horizontal", "size": 12, "thickness": 1, "color": "black", "opacity": 1, "clip": true},
         "encoding": {"y": {"field": "v", "type": "quantitative", "axis": null}, "x": {"datum": -30, "type": "quantitative", "axis": null}}},
        {"data": {"name": "cmin"}, "mark": {"type": "tick", "orient": "horizontal", "size": 12, "thickness": 1, "color": "black", "opacity": 1, "clip": true},
         "encoding": {"y": {"field": "v", "type": "quantitative", "axis": null}, "x": {"datum": 30, "type": "quantitative", "axis": null}}}
      ],
      "resolve": {"axis": {"x": "independent", "y": "independent"}}
    },
    {
      "width": 229, "height": 176,
      "layer": [
        {"data": {"name": "pd"}, "transform": [{"filter": "datum.s === 'solid'"}],
         "mark": {"type": "line", "color": "black", "strokeWidth": 1.1, "clip": true},
         "encoding": {
           "x": {"field": "r", "type": "quantitative", "scale": {"domain": [-30, 30], "nice": false, "zero": false},
                 "axis": {"orient": "bottom", "values": [-20, 0, 20], "labelExpr": "datum.value === -20 ? '–20' : '' + datum.value", "labelPadding": 11, "title": "r\u00a0\u00a0\u00a0(arcsec)", "titleFontSize": 22, "titleX": 121, "titleY": 55, "titleBaseline": "alphabetic", "titleAlign": "center"}},
           "y": {"field": "c", "type": "quantitative", "scale": {"domain": [0, 1], "nice": false, "zero": false},
                 "axis": {"orient": "left", "values": [0, 0.2, 0.4, 0.6, 0.8, 1], "labelExpr": "'' + datum.value", "labelPadding": 10, "title": "Colour", "titleX": -72, "titleY": 83, "titleBaseline": "middle", "titleAlign": "center"}}}},
        {"data": {"name": "pd"}, "transform": [{"filter": "datum.s === 'dashed'"}],
         "mark": {"type": "line", "color": "black", "strokeWidth": 1.1, "strokeDash": [5, 3], "clip": true},
         "encoding": {"x": {"field": "r", "type": "quantitative", "axis": null}, "y": {"field": "c", "type": "quantitative", "axis": null}}},
        {"data": {"values": [{"r": -19.2, "c": 0.797, "t": "(d)"}]},
         "mark": {"type": "text", "font": "DejaVu Serif", "fontSize": 27, "align": "center", "baseline": "middle", "color": "black"},
         "encoding": {"x": {"field": "r", "type": "quantitative", "axis": null}, "y": {"field": "c", "type": "quantitative", "axis": null}, "text": {"field": "t"}}},
        {"data": {"values": [{"r": -8.3, "c": 0.143, "t": "S"}, {"r": 8.7, "c": 0.143, "t": "N"}]},
         "mark": {"type": "text", "font": "DejaVu Serif", "fontSize": 13.5, "align": "center", "baseline": "middle", "color": "black"},
         "encoding": {"x": {"field": "r", "type": "quantitative", "axis": null}, "y": {"field": "c", "type": "quantitative", "axis": null}, "text": {"field": "t"}}},
        {"data": {"name": "xt"}, "mark": {"type": "tick", "orient": "vertical", "size": 14, "thickness": 1, "color": "black", "opacity": 1, "clip": true},
         "encoding": {"x": {"field": "v", "type": "quantitative", "axis": null}, "y": {"datum": 0, "type": "quantitative", "axis": null}}},
        {"data": {"name": "xt"}, "mark": {"type": "tick", "orient": "vertical", "size": 14, "thickness": 1, "color": "black", "opacity": 1, "clip": true},
         "encoding": {"x": {"field": "v", "type": "quantitative", "axis": null}, "y": {"datum": 1, "type": "quantitative", "axis": null}}},
        {"data": {"name": "cmaj"}, "mark": {"type": "tick", "orient": "horizontal", "size": 20, "thickness": 1, "color": "black", "opacity": 1, "clip": true},
         "encoding": {"y": {"field": "v", "type": "quantitative", "axis": null}, "x": {"datum": -30, "type": "quantitative", "axis": null}}},
        {"data": {"name": "cmaj"}, "mark": {"type": "tick", "orient": "horizontal", "size": 20, "thickness": 1, "color": "black", "opacity": 1, "clip": true},
         "encoding": {"y": {"field": "v", "type": "quantitative", "axis": null}, "x": {"datum": 30, "type": "quantitative", "axis": null}}},
        {"data": {"name": "cmin"}, "mark": {"type": "tick", "orient": "horizontal", "size": 12, "thickness": 1, "color": "black", "opacity": 1, "clip": true},
         "encoding": {"y": {"field": "v", "type": "quantitative", "axis": null}, "x": {"datum": -30, "type": "quantitative", "axis": null}}},
        {"data": {"name": "cmin"}, "mark": {"type": "tick", "orient": "horizontal", "size": 12, "thickness": 1, "color": "black", "opacity": 1, "clip": true},
         "encoding": {"y": {"field": "v", "type": "quantitative", "axis": null}, "x": {"datum": 30, "type": "quantitative", "axis": null}}}
      ],
      "resolve": {"axis": {"x": "independent", "y": "independent"}}
    }
  ]
}
